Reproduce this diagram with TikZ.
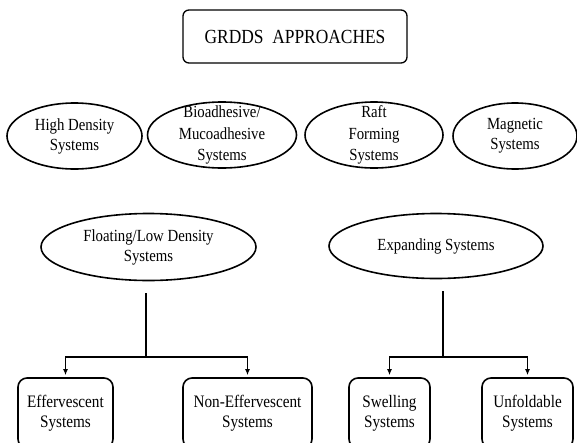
\documentclass[tikz,border=0pt]{standalone}
\usepackage{fontspec}
\setmainfont{Liberation Serif}[FakeStretch=0.87]
\usetikzlibrary{arrows.meta,positioning,shapes.geometric}

\begin{document}
\begin{tikzpicture}[x=1pt,y=-1pt,
    oval/.style={ellipse, draw, line width=1.6pt, inner sep=0pt, minimum height=66pt, align=center, font=\fontsize{17}{20}\selectfont},
    ovaltext/.style={align=center, font=\fontsize{17}{21.5}\selectfont},
    leaf/.style={draw, rounded corners=9pt, line width=1.6pt, minimum height=70pt, align=center, font=\fontsize{17.5}{20}\selectfont},
    conn/.style={line width=1.4pt},
    arr/.style={line width=1.4pt, -{Latex[length=6pt,width=5pt]}, shorten >=2pt}]
    \useasboundingbox (0,0) rectangle (577,442);
    \clip (0,0) rectangle (577,442);

    % top box
    \node[draw, rounded corners=6pt, line width=1.3pt, minimum width=224pt, minimum height=53pt, font=\fontsize{20}{24}\selectfont] (grdds) at (295,36.5) {GRDDS\ \ APPROACHES};

    % second row
    \node[oval, minimum width=135pt] (highden) at (74.5,136) {High Density\\Systems};
    \node[oval, minimum width=149pt, label={[ovaltext]center:Bioadhesive/\\Mucoadhesive\\Systems}] (bioad) at (222,135) {};
    \node[oval, minimum width=138pt, label={[ovaltext]center:Raft\\Forming\\Systems}] (raft) at (374,135) {};
    \node[oval, minimum width=124pt] (magnet) at (515,136) {Magnetic\\Systems};

    % third row
    \node[oval, minimum width=215pt, minimum height=67pt] (floating) at (148.5,247) {Floating/Low Density\\Systems};
    \node[oval, minimum width=214pt, minimum height=65pt] (expand) at (436,246) {Expanding Systems};

    % bottom boxes
    \node[leaf, minimum width=95pt] (efferv) at (65.5,413) {Effervescent\\Systems};
    \node[leaf, minimum width=129pt] (nonefferv) at (247.5,413) {Non-Effervescent\\Systems};
    \node[leaf, minimum width=81pt] (swell) at (389.5,413) {Swelling\\Systems};
    \node[leaf, minimum width=91pt] (unfold) at (527.5,413) {Unfoldable\\Systems};

    % connectors
    \coordinate (flTop) at (146,293);
    \coordinate (flJoin) at (146,357);
    \coordinate (exTop) at (443,291);
    \coordinate (exJoin) at (443,357);
    \draw[conn] (flTop) -- (flJoin);
    \draw[arr] (flJoin) -| (efferv);
    \draw[arr] (flJoin) -| (nonefferv);
    \draw[conn] (exTop) -- (exJoin);
    \draw[arr] (exJoin) -| (swell);
    \draw[arr] (exJoin) -| (unfold);
\end{tikzpicture}
\end{document}
